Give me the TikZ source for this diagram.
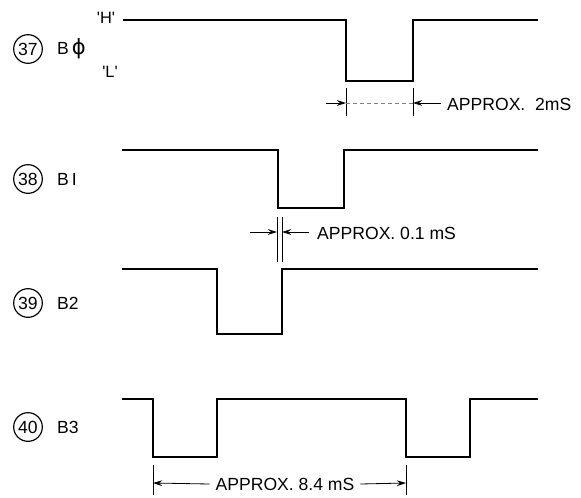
\documentclass[tikz,border=0pt]{standalone}
\usepackage{fontspec}
\setmainfont{Liberation Sans}
\newfontfamily\phifont{DejaVu Sans}
\usetikzlibrary{arrows.meta}

\begin{document}
\begin{tikzpicture}[x=0.03cm,y=-0.03cm,>={Stealth[length=8pt,width=5pt,inset=3pt]},
    wave/.style={line width=2.3pt,line join=miter},
    dim/.style={line width=0.7pt},
    num node/.style={circle,draw,line width=1pt,minimum size=0.86cm,inner sep=0pt,font=\fontsize{15}{17}\selectfont},
    name node/.style={anchor=west,inner sep=0pt,font=\fontsize{15}{17}\selectfont},
    level node/.style={inner sep=0pt,font=\fontsize{14}{16}\selectfont},
    approx node/.style={inner sep=0pt,font=\fontsize{15}{17}\selectfont}]

  \useasboundingbox (0,0) rectangle (581,497);

  % signal numbers and names
  \node[num node] (n37) at (28,49) {37};
  \node[num node] (n38) at (28,179) {38};
  \node[num node] (n39) at (28,303) {39};
  \node[num node] (n40) at (28,427) {40};
  \node[name node] (b0) at (57,49) {B\,{\phifont\fontsize{18}{20}\selectfont ϕ}};
  \node[name node] (b1) at (57,179) {B\,I};
  \node[name node] (b2) at (57,303) {B2};
  \node[name node] (b3) at (57,427) {B3};
  \node[level node] (hi) at (106,18) {\textquotesingle H\textquotesingle};
  \node[level node] (lo) at (110,72) {\textquotesingle L\textquotesingle};

  % waveforms
  \draw[wave] (123,20) -- (346,20) -- (346,81) -- (413,81) -- (413,20) -- (538,20);
  \draw[wave] (122,150) -- (278,150) -- (278,208) -- (344,208) -- (344,150) -- (538,150);
  \draw[wave] (122,269) -- (217,269) -- (217,334) -- (282,334) -- (282,269) -- (538,269);
  \draw[wave] (122,399) -- (153,399) -- (153,457) -- (217,457) -- (217,399)
              -- (406,399) -- (406,457) -- (470,457) -- (470,399) -- (538,399);

  % APPROX. 2mS
  \draw[dim] (346,88) -- (346,116);
  \draw[dim] (413,88) -- (413,116);
  \draw[dim,->] (326,103) -- (346,103);
  \draw[dim,->] (441,103) -- (413,103);
  \draw[dim,dashed,gray] (346,103) -- (413,103);
  \node[approx node,anchor=west] (t2) at (447,104) {APPROX.\ \ 2mS};

  % APPROX. 0.1 mS
  \draw[dim] (277,217) -- (277,262);
  \draw[dim] (282,217) -- (282,262);
  \draw[dim,->] (250,232) -- (277,232);
  \draw[dim,->] (309,232) -- (282,232);
  \node[approx node,anchor=west] (t01) at (317,233) {APPROX.\ 0.1 mS};

  % APPROX. 8.4 mS
  \coordinate (l84) at (153,483);
  \coordinate (r84) at (406,483);
  \draw[dim] (153,465) -- (153,495);
  \draw[dim] (406,465) -- (406,495);
  \node[approx node,inner xsep=5pt] (t84) at (285,484) {APPROX.\ 8.4 mS};
  \draw[dim,->] (t84.west) -- (l84);
  \draw[dim,->] (t84.east) -- (r84);
\end{tikzpicture}
\end{document}
